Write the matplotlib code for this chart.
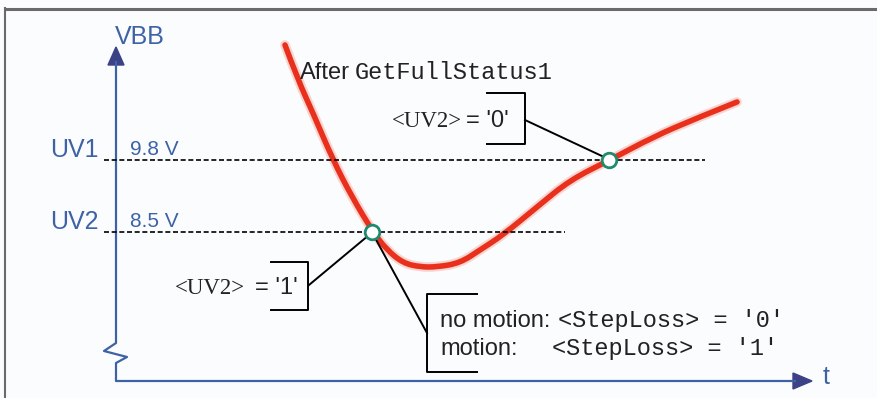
import matplotlib.pyplot as plt
from matplotlib.patches import Polygon, PathPatch
from matplotlib.path import Path

# diagram drawn in pixel space (x right, y down)
W, H = 877, 398

# red VBB curve (pixel coords)
curve_x = [285, 298, 313, 333, 352, 373, 387, 403, 420, 437, 460, 480, 503, 537, 570, 610, 653, 697, 737]
curve_y = [45, 80, 113, 160, 197, 232, 250, 263, 267, 267, 263, 250, 235, 207, 180, 160, 137, 118, 102]

# threshold levels
levels = ["UV1", "UV2"]
level_volts = ["9.8 V", "8.5 V"]
level_y = [160, 232]
level_x_end = [705, 565]

# crossing markers
cross_x = [372, 609]
cross_y = [232, 160]

BLUE = "#3d62a6"
NAVY = "#3b4286"
RED = "#e8301c"
GREEN = "#1f8a6e"
TXT = "#222222"
SANS = "Liberation Sans"
MONO = "Liberation Mono"
SERIF = "Liberation Serif"

fig = plt.figure(figsize=(W / 100, H / 100), dpi=100)
fig.patch.set_facecolor("#fbfcfe")
ax = fig.add_axes([0, 0, 1, 1])
ax.set_xlim(0, W)
ax.set_ylim(H, 0)
ax.axis("off")

# frame (top and left edges)
ax.plot([4, W], [8.5, 8.5], color="#6a6a6a", lw=2.2, solid_capstyle="butt")
ax.plot([4.5, 4.5], [8, H], color="#6a6a6a", lw=1.5)

# axes with break
ax.plot([116, 116, 104, 127, 116, 116, 795],
        [62, 343, 351, 357, 363, 381, 381], color=BLUE, lw=1.6)
ax.add_patch(Polygon([[116, 47], [108, 65], [124, 65]], closed=True, color=NAVY))
ax.add_patch(Polygon([[812, 381], [793, 373], [793, 389]], closed=True, color=NAVY))
ax.text(115, 44, "VBB", color=BLUE, fontsize=18, family=SANS, va="baseline")
ax.text(823, 384, "t", color=BLUE, fontsize=18, family=SANS, va="baseline")

# threshold lines
for name, volts, y, xe in zip(levels, level_volts, level_y, level_x_end):
    ax.plot([104, xe], [y, y], color="black", lw=1.2, dashes=(3, 1.6))
    ax.text(50, y - 3, name, color=BLUE, fontsize=18, family=SANS, va="baseline")
    ax.text(130, y - 5, volts, color=BLUE, fontsize=15, family=SANS, va="baseline")

# VBB curve: smooth quadratic path through the read points (points act as controls)
verts = [(curve_x[0], curve_y[0])]
codes = [Path.MOVETO]
for i in range(1, len(curve_x) - 1):
    mid = ((curve_x[i] + curve_x[i + 1]) / 2, (curve_y[i] + curve_y[i + 1]) / 2)
    if i == len(curve_x) - 2:
        mid = (curve_x[-1], curve_y[-1])
    verts += [(curve_x[i], curve_y[i]), mid]
    codes += [Path.CURVE3, Path.CURVE3]
vbb_path = Path(verts, codes)
ax.add_patch(PathPatch(vbb_path, fill=False, edgecolor="#f7b0a6", lw=7, alpha=0.5, capstyle="round"))
ax.add_patch(PathPatch(vbb_path, fill=False, edgecolor=RED, lw=4, capstyle="round"))

# leader lines
ax.plot([309, 369], [285, 235], color="black", lw=1.4)
ax.plot([374, 427], [236, 333], color="black", lw=1.4)
ax.plot([525, 604], [120, 157], color="black", lw=1.4)

ax.scatter(cross_x, cross_y, s=110, facecolor="white", edgecolor=GREEN, linewidth=2, zorder=5)

# brackets
ax.plot([271, 308, 308, 271], [262, 262, 310, 310], color="black", lw=1.4)
ax.plot([487, 525, 525, 487], [93, 93, 144, 144], color="black", lw=1.4)
ax.plot([477, 427, 427, 477], [294, 294, 372, 372], color="black", lw=1.4)

# annotation texts
ax.text(300, 79, "After", color=TXT, fontsize=17, family=SANS, va="baseline")
ax.text(355, 79, "GetFullStatus1", color=TXT, fontsize=17, family=MONO, va="baseline")

ax.text(392, 127, "<UV2>", color=TXT, fontsize=16.5, family=SERIF, va="baseline")
ax.text(466, 127, "= '0'", color=TXT, fontsize=17, family=SANS, va="baseline")
ax.text(175, 294, "<UV2>", color=TXT, fontsize=16.5, family=SERIF, va="baseline")
ax.text(255, 294, "= '1'", color=TXT, fontsize=17, family=SANS, va="baseline")

ax.text(440, 327, "no motion:", color=TXT, fontsize=17, family=SANS, va="baseline")
ax.text(558, 327, "<StepLoss> = '0'", color=TXT, fontsize=17, family=MONO, va="baseline")
ax.text(440, 355, "motion:", color=TXT, fontsize=17, family=SANS, va="baseline")
ax.text(552, 355, "<StepLoss> = '1'", color=TXT, fontsize=17, family=MONO, va="baseline")

fig.savefig("out.png", dpi=100, facecolor=fig.get_facecolor())
